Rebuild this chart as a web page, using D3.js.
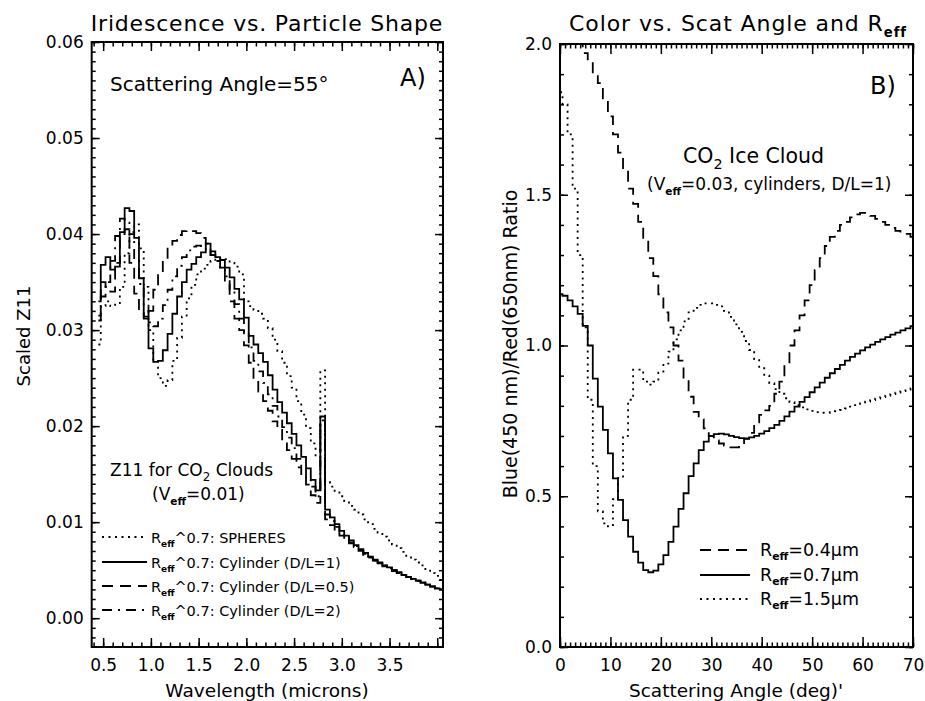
<!DOCTYPE html>
<html><head><meta charset="utf-8">
<script src="https://cdn.jsdelivr.net/npm/d3@7"></script>
<style>
body{margin:0;background:#fff;}
svg text{font-family:"DejaVu Sans",sans-serif;fill:#000;}
</style></head><body>
<svg id="c" width="925" height="701"></svg>
<script>
// ---------------- DATA ----------------
// Panel A: wavelength (microns) and scaled Z11
const wavelength = [0.45,0.50,0.55,0.60,0.65,0.70,0.75,0.80,0.85,0.90,0.95,1.00,1.05,1.10,1.15,1.20,1.25,1.30,1.35,1.40,1.45,1.50,1.55,1.60,1.65,1.70,1.75,1.80,1.85,1.90,1.95,2.00,2.05,2.10,2.15,2.20,2.25,2.30,2.35,2.40,2.45,2.50,2.55,2.60,2.65,2.70,2.75,2.80,2.85,2.90,2.95,3.00,3.05,3.10,3.15,3.20,3.25,3.30,3.35,3.40,3.45,3.50,3.55,3.60,3.65,3.70,3.75,3.80,3.85,3.90,3.95,4.00,4.05];
const z11Spheres = [0.0285,0.0325,0.0330,0.0325,0.0328,0.0345,0.0380,0.0402,0.0410,0.0385,
 0.0345,0.0300,0.0268,0.0250,0.0242,0.0248,0.0268,0.0292,0.0314,0.0333,
 0.0347,0.0358,0.0364,0.0368,0.0372,0.0375,0.0375,0.0374,0.0370,0.0366,
 0.0358,0.0330,0.0325,0.0321,0.0317,0.0312,0.0302,0.0290,0.0278,0.0266,
 0.0252,0.0240,0.0226,0.0212,0.0198,0.0182,0.0168,0.0258,0.0142,0.0137,
 0.0131,0.0127,0.0122,0.0117,0.0113,0.0108,0.0103,0.0098,0.0093,0.0089,
 0.0085,0.0081,0.0077,0.0073,0.0069,0.0065,0.0061,0.0058,0.0055,0.0051,
 0.0047,0.0044,0.0040];
const z11CylDL1 = [0.0330,0.0368,0.0376,0.0363,0.0366,0.0402,0.0427,0.0424,0.0396,0.0354,
 0.0314,0.0281,0.0267,0.0268,0.0279,0.0296,0.0317,0.0335,0.0350,0.0363,
 0.0369,0.0376,0.0381,0.0390,0.0378,0.0376,0.0373,0.0365,0.0355,0.0343,
 0.0332,0.0313,0.0294,0.0285,0.0276,0.0267,0.0253,0.0238,0.0225,0.0214,
 0.0203,0.0192,0.0180,0.0168,0.0156,0.0144,0.0133,0.0210,0.0113,0.0105,
 0.0098,0.0091,0.0086,0.0081,0.0076,0.0072,0.0068,0.0064,0.0061,0.0058,
 0.0055,0.0053,0.0050,0.0048,0.0045,0.0043,0.0041,0.0039,0.0037,0.0035,
 0.0033,0.0031,0.0030];
const z11CylDL05 = [0.0315,0.0350,0.0345,0.0340,0.0370,0.0400,0.0405,0.0370,0.0338,0.0318,
 0.0312,0.0320,0.0342,0.0359,0.0372,0.0386,0.0393,0.0399,0.0403,0.0404,
 0.0403,0.0401,0.0396,0.0390,0.0382,0.0372,0.0362,0.0350,0.0330,0.0312,
 0.0300,0.0284,0.0266,0.0248,0.0236,0.0226,0.0216,0.0205,0.0196,0.0185,
 0.0175,0.0166,0.0157,0.0150,0.0139,0.0128,0.0120,0.0205,0.0103,0.0097,
 0.0091,0.0086,0.0082,0.0078,0.0074,0.0070,0.0066,0.0063,0.0060,0.0057,
 0.0054,0.0052,0.0049,0.0047,0.0045,0.0043,0.0041,0.0039,0.0037,0.0035,
 0.0033,0.0031,0.0030];
const z11CylDL2 = [0.0310,0.0335,0.0350,0.0372,0.0398,0.0416,0.0412,0.0400,0.0372,0.0348,
 0.0325,0.0308,0.0304,0.0312,0.0326,0.0342,0.0356,0.0367,0.0376,0.0383,
 0.0387,0.0388,0.0386,0.0382,0.0378,0.0372,0.0365,0.0356,0.0342,0.0327,
 0.0312,0.0297,0.0282,0.0268,0.0257,0.0245,0.0233,0.0221,0.0210,0.0199,
 0.0188,0.0177,0.0166,0.0156,0.0146,0.0137,0.0127,0.0206,0.0108,0.0101,
 0.0095,0.0089,0.0084,0.0079,0.0075,0.0071,0.0067,0.0064,0.0060,0.0057,
 0.0055,0.0052,0.0050,0.0047,0.0045,0.0043,0.0041,0.0039,0.0037,0.0035,
 0.0033,0.0031,0.0030];
const leftXTickLabels = [0.5,1.0,1.5,2.0,2.5,3.0,3.5];
const leftYTickLabels = [0.00,0.01,0.02,0.03,0.04,0.05,0.06];

// Panel B: scattering angle (deg) and blue/red ratio
const angle = [0,1,2,3,4,5,6,7,8,9,10,11,12,13,14,15,16,17,18,19,20,21,22,23,24,25,26,27,28,29,30,31,32,33,34,35,36,37,38,39,40,41,42,43,44,45,46,47,48,49,50,51,52,53,54,55,56,57,58,59,60,61,62,63,64,65,66,67,68,69,70];
const ratioR04 = [null,null,null,2.12,2.00,1.97,1.94,1.90,1.87,1.82,
 1.76,1.70,1.64,1.58,1.52,1.47,1.41,1.35,1.29,1.23,
 1.17,1.11,1.06,1.00,0.95,0.89,0.83,0.78,0.755,0.725,
 0.700,0.685,0.675,0.668,0.662,0.662,0.672,0.690,0.710,0.745,
 0.770,0.785,0.800,0.840,0.880,0.940,1.000,1.050,1.100,1.150,
 1.200,1.250,1.290,1.330,1.360,1.380,1.400,1.410,1.425,1.435,
 1.440,1.440,1.430,1.420,1.410,1.400,1.390,1.380,1.370,1.370,
 1.360];
const ratioR07 = [1.17,1.165,1.15,1.13,1.105,1.065,1.00,0.89,0.797,0.720,
 0.642,0.559,0.488,0.421,0.366,0.316,0.280,0.255,0.248,0.253,
 0.274,0.305,0.349,0.399,0.458,0.510,0.567,0.609,0.653,0.681,
 0.700,0.706,0.708,0.705,0.700,0.696,0.693,0.692,0.695,0.700,
 0.708,0.716,0.726,0.737,0.750,0.765,0.781,0.797,0.813,0.829,
 0.845,0.861,0.877,0.893,0.908,0.922,0.936,0.950,0.962,0.973,
 0.984,0.994,1.003,1.012,1.020,1.028,1.036,1.043,1.050,1.057,
 1.064];
const ratioR15 = [1.84,1.80,1.70,1.52,1.30,1.06,0.82,0.60,0.45,0.41,
 0.40,0.49,0.56,0.70,0.82,0.92,0.92,0.88,0.87,0.88,
 0.91,0.94,0.98,1.02,1.05,1.08,1.11,1.125,1.135,1.14,
 1.14,1.135,1.13,1.115,1.095,1.07,1.045,1.015,0.985,0.955,
 0.925,0.90,0.875,0.855,0.84,0.825,0.812,0.802,0.795,0.788,
 0.783,0.779,0.777,0.777,0.779,0.782,0.786,0.791,0.797,0.802,
 0.808,0.814,0.819,0.824,0.829,0.834,0.839,0.844,0.849,0.854,
 0.858];
const rightXTickLabels = [0,10,20,30,40,50,60,70];
const rightYTickLabels = [0.0,0.5,1.0,1.5,2.0];

// ---------------- STYLES ----------------
const DOT = "2,4.5", DASH = "11,7", DASHDOT = "10,6,2,6";

const svg = d3.select("#c");

function richText(g, x, y, parts, size, anchor) {
  const t = g.append("text").attr("x", x).attr("y", y).attr("font-size", size);
  if (anchor) t.attr("text-anchor", anchor);
  let shift = 0;
  parts.forEach(p => {
    const ts = t.append("tspan").text(p.t);
    if (p.sub) {
      const s = p.small || 0.62;
      ts.attr("font-size", size * s).attr("dy", size * 0.28 - shift);
      if (p.bold) ts.attr("font-weight", "bold");
      shift = size * 0.28;
    } else if (shift) {
      ts.attr("dy", -shift); shift = 0;
    }
  });
  return t;
}

function frame(g, x, y, ticks) {
  const [x0, x1] = x.range(), [y1, y0] = y.range();
  const mk = (axisFn, scale, vals, len, fmt, tx, ty, pad) => {
    const a = axisFn(scale).tickValues(vals).tickSize(-len).tickSizeOuter(0).tickPadding(pad || 3);
    a.tickFormat(fmt || (() => ""));
    const ag = g.append("g").attr("transform", `translate(${tx},${ty})`).call(a);
    ag.select(".domain").remove();
    ag.selectAll("line").attr("stroke", "#000").attr("stroke-width", 1.5);
    ag.selectAll("text").attr("font-size", 17).attr("font-family", "DejaVu Sans").attr("fill", "#000");
    return ag;
  };
  mk(d3.axisBottom, x, ticks.xMinor, ticks.xMinLen, null, 0, y1);
  mk(d3.axisBottom, x, ticks.xMajor, ticks.xMajLen, ticks.xFmt, 0, y1, 12);
  mk(d3.axisTop, x, ticks.xMinor, ticks.xMinLen, null, 0, y0);
  mk(d3.axisTop, x, ticks.xMajor, ticks.xMajLen, null, 0, y0);
  mk(d3.axisLeft, y, ticks.yMinor, ticks.yMinLen, null, x0, 0);
  mk(d3.axisLeft, y, ticks.yMajor, ticks.yMajLen, ticks.yFmt, x0, 0, 8);
  mk(d3.axisRight, y, ticks.yMinor, ticks.yMinLen, null, x1, 0);
  mk(d3.axisRight, y, ticks.yMajor, ticks.yMajLen, null, x1, 0);
  g.append("rect").attr("x", x0).attr("y", y0).attr("width", x1 - x0).attr("height", y1 - y0)
    .attr("fill", "none").attr("stroke", "#000").attr("stroke-width", 2);
}

function drawSeries(g, clipId, xs, ys, x, y, dash) {
  const pts = xs.map((v, i) => [v, ys[i]]);
  const line = d3.line().defined(d => d[1] != null).x(d => x(d[0])).y(d => y(d[1])).curve(d3.curveStep);
  g.append("path").attr("d", line(pts)).attr("clip-path", `url(#${clipId})`)
    .attr("fill", "none").attr("stroke", "#000").attr("stroke-width", 1.8)
    .attr("stroke-dasharray", dash || null);
}

// ---------------- PANEL A ----------------
const xL = d3.scaleLinear().domain([0.38, 4.06]).range([91.7, 443]);
const yL = d3.scaleLinear().domain([-0.003, 0.06]).range([647, 42]);
const gA = svg.append("g");
svg.append("clipPath").attr("id", "clipA").append("rect")
  .attr("x", 91.7).attr("y", 42).attr("width", 443 - 91.7).attr("height", 647 - 42);

drawSeries(gA, "clipA", wavelength, z11Spheres, xL, yL, DOT);
drawSeries(gA, "clipA", wavelength, z11CylDL1, xL, yL, null);
drawSeries(gA, "clipA", wavelength, z11CylDL05, xL, yL, DASH);
drawSeries(gA, "clipA", wavelength, z11CylDL2, xL, yL, DASHDOT);

frame(gA, xL, yL, {
  xMinor: d3.range(0.4, 4.05, 0.1), xMinLen: 4.5,
  xMajor: leftXTickLabels.concat([4.0]), xMajLen: 9,
  xFmt: d => d >= 3.99 ? "" : d3.format(".1f")(d),
  yMinor: d3.range(-0.002, 0.0605, 0.001), yMinLen: 4,
  yMajor: leftYTickLabels, yMajLen: 8,
  yFmt: d3.format(".2f")
});

gA.append("text").attr("x", 267).attr("y", 31).attr("text-anchor", "middle")
  .attr("font-size", 22).attr("letter-spacing", 0.8).text("Iridescence vs. Particle Shape");
gA.append("text").attr("x", 267).attr("y", 697).attr("text-anchor", "middle")
  .attr("font-size", 18.5).text("Wavelength (microns)");
gA.append("text").attr("transform", "translate(30,336) rotate(-90)").attr("text-anchor", "middle")
  .attr("font-size", 18).text("Scaled Z11");
gA.append("text").attr("x", 110).attr("y", 91).attr("font-size", 20).text("Scattering Angle=55°");
gA.append("text").attr("x", 400).attr("y", 86).attr("font-size", 24).text("A)");
richText(gA, 110, 476, [{t:"Z11 for CO"},{t:"2",sub:true,small:0.7},{t:" Clouds"}], 17);
richText(gA, 152, 500, [{t:"(V"},{t:"eff",sub:true,bold:true},{t:"=0.01)"}], 17);

const legA = [
  {dash: DOT, label: ": SPHERES"},
  {dash: null, label: ": Cylinder (D/L=1)"},
  {dash: DASH, label: ": Cylinder (D/L=0.5)"},
  {dash: DASHDOT, label: ": Cylinder (D/L=2)"}
];
const legAy = [537, 562, 586, 610];
legA.forEach((d, i) => {
  gA.append("line").attr("x1", 102).attr("x2", 147).attr("y1", legAy[i]).attr("y2", legAy[i])
    .attr("stroke", "#000").attr("stroke-width", 1.8).attr("stroke-dasharray", d.dash);
  richText(gA, 151, legAy[i] + 5.5, [{t:"R"},{t:"eff",sub:true,bold:true},{t:"^0.7" + d.label}], 14.5);
});

// ---------------- PANEL B ----------------
const xR = d3.scaleLinear().domain([0, 70]).range([560, 913]);
const yR = d3.scaleLinear().domain([0, 2]).range([647, 44]);
const gB = svg.append("g");
svg.append("clipPath").attr("id", "clipB").append("rect")
  .attr("x", 560).attr("y", 44).attr("width", 913 - 560).attr("height", 647 - 44);

drawSeries(gB, "clipB", angle, ratioR04, xR, yR, DASH);
drawSeries(gB, "clipB", angle, ratioR07, xR, yR, null);
drawSeries(gB, "clipB", angle, ratioR15, xR, yR, DOT);

frame(gB, xR, yR, {
  xMinor: d3.range(0, 70.5, 1), xMinLen: 4.5,
  xMajor: rightXTickLabels, xMajLen: 10,
  xFmt: d3.format("d"),
  yMinor: d3.range(0, 2.05, 0.1), yMinLen: 4,
  yMajor: rightYTickLabels, yMajLen: 8,
  yFmt: d3.format(".1f")
});

richText(gB, 738, 31, [{t:"Color vs. Scat Angle and R"},{t:"eff",sub:true,bold:true,small:0.6}], 22, "middle")
  .attr("letter-spacing", 0.9);
gB.append("text").attr("x", 736).attr("y", 697).attr("text-anchor", "middle")
  .attr("font-size", 18.5).text("Scattering Angle (deg)'");
gB.append("text").attr("transform", "translate(517,344) rotate(-90)").attr("text-anchor", "middle")
  .attr("font-size", 19).text("Blue(450 nm)/Red(650nm) Ratio");
gB.append("text").attr("x", 870).attr("y", 94).attr("font-size", 24).text("B)");
richText(gB, 683, 163, [{t:"CO"},{t:"2",sub:true,small:0.7},{t:" Ice Cloud"}], 20.5);
richText(gB, 647, 190, [{t:"(V"},{t:"eff",sub:true,bold:true},{t:"=0.03, cylinders, D/L=1)"}], 17);

const legB = [
  {dash: DASH, label: "=0.4μm"},
  {dash: null, label: "=0.7μm"},
  {dash: DOT, label: "=1.5μm"}
];
const legBy = [550, 575, 599];
legB.forEach((d, i) => {
  gB.append("line").attr("x1", 700).attr("x2", 750).attr("y1", legBy[i]).attr("y2", legBy[i])
    .attr("stroke", "#000").attr("stroke-width", 1.8).attr("stroke-dasharray", d.dash);
  richText(gB, 760, legBy[i] + 5.5, [{t:"R"},{t:"eff",sub:true,bold:true},{t:d.label}], 17.5);
});
</script>
</body></html>
